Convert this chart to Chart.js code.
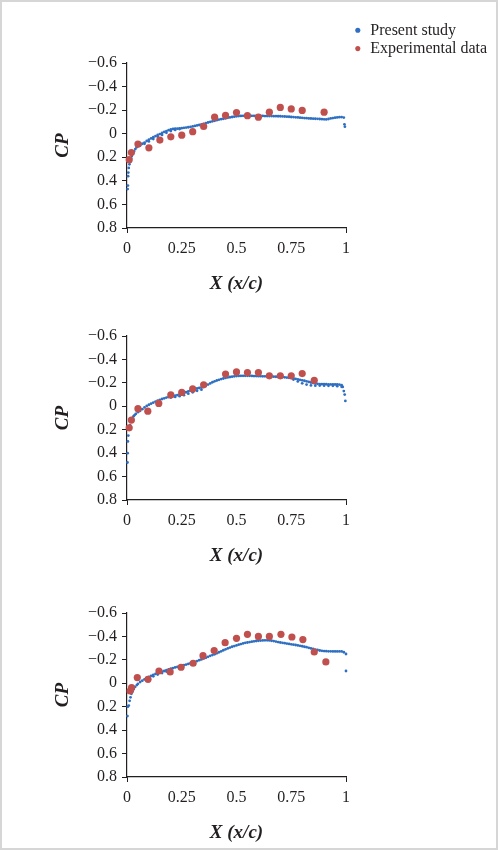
<!DOCTYPE html>
<html lang="en">
<head>
<meta charset="UTF-8">
<title>CP distribution - present study vs experimental data</title>
<script src="https://cdn.jsdelivr.net/npm/chart.js"></script>
<style>
  html, body { margin: 0; padding: 0; background: #fff; }
  body { width: 498px; height: 850px; position: relative; overflow: hidden; }
  .frame { position: absolute; left: 0; top: 0; width: 498px; height: 850px; box-sizing: border-box; border: 2px solid #d6d6d6; }
  .box { position: absolute; left: 0; width: 498px; }
</style>
</head>
<body>
<div class="frame"></div>
<div class="box" style="left:351px; top:20px; width:145px; height:130px"><canvas id="legend"></canvas></div>
<div class="box" style="top:40px; height:255px"><canvas id="cp1"></canvas></div>
<div class="box" style="top:313px; height:254px"><canvas id="cp2"></canvas></div>
<div class="box" style="top:590px; height:254px"><canvas id="cp3"></canvas></div>

<script>
// --- data ---
const seriesNames = ['Present study', 'Experimental data'];
const xTickValues = [0, 0.25, 0.5, 0.75, 1];
const xTickLabels = ['0', '0.25', '0.5', '0.75', '1'];
const yTickValues = [-0.6, -0.4, -0.2, 0, 0.2, 0.4, 0.6, 0.8];
const yTickLabels = ['\u22120.6', '\u22120.4', '\u22120.2', '0', '0.2', '0.4', '0.6', '0.8'];

// panel 1
const study1X = [0.003,0.004,0.005,0.006,0.008,0.011,0.014,0.018,0.022,0.027,0.032,0.038,0.044,
  0.05,0.06,0.07,0.08,0.09,0.10,0.11,0.12,0.13,0.14,0.15,0.16,0.17,0.18,0.19,0.20,0.21,0.22,0.23,0.24,
  0.25,0.26,0.27,0.28,0.29,0.30,0.31,0.32,0.33,0.34,0.35,0.36,0.37,0.38,0.39,0.40,0.41,0.42,0.43,0.44,
  0.45,0.46,0.47,0.48,0.49,0.50,0.51,0.52,0.53,0.54,0.55,0.56,0.57,0.58,0.59,0.60,0.61,0.62,0.63,0.64,
  0.65,0.66,0.67,0.68,0.69,0.70,0.71,0.72,0.73,0.74,0.75,0.76,0.77,0.78,0.79,0.80,0.81,0.82,0.83,0.84,
  0.85,0.86,0.87,0.88,0.89,0.90,0.91,0.92,0.93,0.94,0.95,0.96,0.97,0.98,0.99,0.993,0.995,
  0.06,0.08,0.10,0.12,0.14,0.16,0.18,0.20,0.22,0.24];
const study1Y = [0.47,0.44,0.36,0.33,0.29,0.26,0.24,0.21,0.19,0.17,0.15,0.13,0.115,
  0.105,0.095,0.085,0.075,0.062,0.05,0.04,0.03,0.02,0.01,0.003,-0.006,-0.015,-0.022,-0.03,-0.036,-0.04,-0.042,-0.043,-0.045,
  -0.047,-0.05,-0.052,-0.055,-0.058,-0.062,-0.066,-0.07,-0.074,-0.079,-0.084,-0.09,-0.095,-0.1,-0.105,-0.11,-0.115,-0.12,-0.123,-0.126,
  -0.13,-0.135,-0.138,-0.142,-0.145,-0.148,-0.15,-0.151,-0.152,-0.152,-0.152,-0.152,-0.152,-0.152,-0.151,-0.151,-0.151,-0.151,-0.15,-0.15,
  -0.15,-0.15,-0.149,-0.149,-0.148,-0.148,-0.147,-0.146,-0.145,-0.144,-0.142,-0.141,-0.139,-0.138,-0.136,-0.135,-0.133,-0.132,-0.13,-0.129,
  -0.128,-0.127,-0.126,-0.125,-0.123,-0.122,-0.121,-0.125,-0.13,-0.133,-0.136,-0.138,-0.14,-0.141,-0.137,-0.08,-0.06,
  0.1,0.085,0.065,0.045,0.025,0.01,-0.008,-0.022,-0.032,-0.04];
const exp1X = [0.01,0.02,0.05,0.10,0.15,0.20,0.25,0.30,0.35,0.40,0.45,0.50,0.55,0.60,0.65,0.70,0.75,0.80,0.90];
const exp1Y = [0.22,0.16,0.088,0.12,0.054,0.026,0.012,-0.017,-0.062,-0.14,-0.155,-0.18,-0.153,-0.14,-0.183,-0.223,-0.21,-0.198,-0.183];

// panel 2
const study2X = [0.002,0.003,0.004,0.006,0.01,0.014,0.02,0.025,0.03,0.035,0.04,
  0.05,0.06,0.07,0.08,0.09,0.10,0.11,0.12,0.13,0.14,0.15,0.16,0.17,0.18,0.19,0.20,0.21,0.22,0.23,0.24,
  0.25,0.26,0.27,0.28,0.29,0.30,0.31,0.32,0.33,0.34,0.35,0.36,0.37,0.38,0.39,0.40,0.41,0.42,0.43,0.44,
  0.45,0.46,0.47,0.48,0.49,0.50,0.51,0.52,0.53,0.54,0.55,0.56,0.57,0.58,0.59,0.60,0.61,0.62,0.63,0.64,
  0.65,0.66,0.67,0.68,0.69,0.70,0.71,0.72,0.73,0.74,0.75,0.76,0.77,0.78,0.79,0.80,0.81,0.82,0.83,0.84,
  0.85,0.86,0.87,0.88,0.89,0.90,0.91,0.92,0.93,0.94,0.95,0.96,0.97,0.98,0.985,0.99,0.994,0.997,
  0.20,0.22,0.24,0.26,0.28,0.30,0.32,0.34,0.76,0.78,0.80,0.82,0.84,0.86,0.88,0.90,0.92,0.94,0.96,0.98];
const study2Y = [0.48,0.40,0.30,0.25,0.2,0.16,0.125,0.1,0.085,0.075,0.065,
  0.05,0.038,0.025,0.01,-0.003,-0.013,-0.022,-0.031,-0.04,-0.048,-0.055,-0.062,-0.068,-0.074,-0.079,-0.083,-0.087,-0.091,-0.096,-0.101,
  -0.107,-0.113,-0.12,-0.128,-0.135,-0.142,-0.148,-0.152,-0.156,-0.16,-0.166,-0.175,-0.185,-0.195,-0.205,-0.213,-0.22,-0.226,-0.232,-0.237,
  -0.242,-0.246,-0.25,-0.253,-0.256,-0.258,-0.259,-0.26,-0.26,-0.26,-0.26,-0.26,-0.259,-0.258,-0.258,-0.257,-0.257,-0.256,-0.256,-0.255,
  -0.255,-0.254,-0.253,-0.252,-0.251,-0.25,-0.249,-0.247,-0.245,-0.243,-0.241,-0.238,-0.234,-0.23,-0.226,-0.222,-0.218,-0.213,-0.208,-0.203,
  -0.198,-0.194,-0.192,-0.19,-0.189,-0.188,-0.188,-0.187,-0.187,-0.186,-0.186,-0.186,-0.185,-0.18,-0.165,-0.13,-0.1,-0.046,
  -0.075,-0.08,-0.086,-0.095,-0.108,-0.12,-0.132,-0.142,-0.228,-0.212,-0.196,-0.185,-0.178,-0.176,-0.177,-0.176,-0.175,-0.175,-0.172,-0.166];
const exp2X = [0.01,0.02,0.05,0.095,0.145,0.20,0.25,0.30,0.35,0.45,0.50,0.55,0.60,0.65,0.70,0.75,0.80,0.855];
const exp2Y = [0.184,0.118,0.02,0.042,-0.024,-0.097,-0.118,-0.148,-0.183,-0.275,-0.293,-0.288,-0.288,-0.26,-0.26,-0.26,-0.279,-0.222];

// panel 3
const study3X = [0.002,0.004,0.008,0.012,0.016,0.02,0.025,0.03,0.037,0.045,
  0.05,0.06,0.07,0.08,0.09,0.10,0.11,0.12,0.13,0.14,0.15,0.16,0.17,0.18,0.19,0.20,0.21,0.22,0.23,0.24,
  0.25,0.26,0.27,0.28,0.29,0.30,0.31,0.32,0.33,0.34,0.35,0.36,0.37,0.38,0.39,0.40,0.41,0.42,0.43,0.44,
  0.45,0.46,0.47,0.48,0.49,0.50,0.51,0.52,0.53,0.54,0.55,0.56,0.57,0.58,0.59,0.60,0.61,0.62,0.63,0.64,
  0.65,0.66,0.67,0.68,0.69,0.70,0.71,0.72,0.73,0.74,0.75,0.76,0.77,0.78,0.79,0.80,0.81,0.82,0.83,0.84,
  0.85,0.86,0.87,0.88,0.89,0.90,0.91,0.92,0.93,0.94,0.95,0.96,0.97,0.98,0.99,1.0,1.0,
  0.10,0.12,0.14,0.16,0.18,0.20];
const study3Y = [0.28,0.2,0.19,0.15,0.12,0.09,0.07,0.05,0.031,0.015,
  0.005,-0.011,-0.022,-0.034,-0.045,-0.055,-0.064,-0.072,-0.08,-0.087,-0.093,-0.099,-0.105,-0.112,-0.118,-0.124,-0.13,-0.135,-0.14,-0.145,
  -0.15,-0.155,-0.16,-0.165,-0.171,-0.177,-0.183,-0.19,-0.197,-0.204,-0.211,-0.218,-0.226,-0.234,-0.241,-0.248,-0.256,-0.265,-0.273,-0.282,
  -0.29,-0.298,-0.305,-0.312,-0.318,-0.323,-0.33,-0.335,-0.34,-0.345,-0.348,-0.352,-0.355,-0.358,-0.361,-0.363,-0.365,-0.366,-0.367,-0.367,
  -0.366,-0.363,-0.36,-0.356,-0.352,-0.348,-0.345,-0.342,-0.339,-0.336,-0.333,-0.33,-0.327,-0.323,-0.32,-0.316,-0.312,-0.308,-0.303,-0.298,
  -0.293,-0.288,-0.284,-0.28,-0.277,-0.275,-0.274,-0.273,-0.273,-0.272,-0.272,-0.272,-0.272,-0.272,-0.265,-0.25,-0.105,
  -0.045,-0.06,-0.075,-0.088,-0.1,-0.112];
const exp3X = [0.014,0.021,0.047,0.096,0.146,0.197,0.247,0.302,0.347,0.398,0.448,0.50,0.55,0.60,0.65,0.703,0.753,0.803,0.855,0.908];
const exp3Y = [0.066,0.037,-0.049,-0.034,-0.105,-0.097,-0.137,-0.171,-0.236,-0.279,-0.347,-0.384,-0.418,-0.40,-0.40,-0.418,-0.395,-0.373,-0.267,-0.182];

// --- styling ---
const blue = '#2f6fc2';
const red = '#c0504d';
const ink = '#231f20';
const serif = "'Liberation Serif', 'Times New Roman', serif";

const panels = [
  { id: 'cp1', sx: study1X, sy: study1Y, ex: exp1X, ey: exp1Y },
  { id: 'cp2', sx: study2X, sy: study2Y, ex: exp2X, ey: exp2Y },
  { id: 'cp3', sx: study3X, sy: study3Y, ex: exp3X, ey: exp3Y }
];

const toPoints = (xs, ys) => xs.map((x, i) => ({ x: x, y: ys[i] }));

panels.forEach(p => {
  new Chart(document.getElementById(p.id), {
    type: 'scatter',
    data: {
      datasets: [
        { label: seriesNames[0], data: toPoints(p.sx, p.sy), backgroundColor: blue, borderColor: blue,
          borderWidth: 0, pointRadius: 1.4, pointHoverRadius: 1.4, order: 1, clip: false },
        { label: seriesNames[1], data: toPoints(p.ex, p.ey), backgroundColor: red, borderColor: red,
          borderWidth: 0, pointRadius: 3.6, pointHoverRadius: 3.6, order: 0, clip: false }
      ]
    },
    options: {
      responsive: true,
      maintainAspectRatio: false,
      animation: false,
      layout: { padding: { top: 23, right: 152, left: 0, bottom: 0 } },
      plugins: { legend: { display: false }, tooltip: { enabled: false } },
      scales: {
        x: {
          type: 'linear', min: 0, max: 1,
          afterBuildTicks: s => { s.ticks = xTickValues.map(v => ({ value: v })); },
          afterFit: s => { s.height = 67; },
          ticks: { callback: (v, i) => xTickLabels[i], color: ink, padding: 6, maxRotation: 0,
                   font: { family: serif, size: 16 } },
          grid: { drawOnChartArea: false, drawTicks: true, tickLength: 5, tickWidth: 1,
                  tickColor: c => (c.tick && (c.tick.value === 0 || c.tick.value === 1)) ? ink : 'rgba(0,0,0,0)' },
          border: { color: ink, width: 1.2 },
          title: { display: true, text: 'X (x/c)', color: ink, padding: { top: 0, bottom: 0 },
                   font: { family: serif, size: 19, weight: 'bold', style: 'italic' } }
        },
        y: {
          type: 'linear', min: -0.6, max: 0.8, reverse: true,
          afterBuildTicks: s => { s.ticks = yTickValues.map(v => ({ value: v })); },
          afterFit: s => { s.width = 127; },
          ticks: { callback: (v, i) => yTickLabels[i], color: ink, padding: 5,
                   font: { family: serif, size: 16 } },
          grid: { drawOnChartArea: false, drawTicks: true, tickLength: 5, tickWidth: 1, tickColor: ink },
          border: { color: ink, width: 1.2 },
          title: { display: true, text: 'CP', color: ink, padding: { top: 52, bottom: 0 },
                   font: { family: serif, size: 19, weight: 'bold', style: 'italic' } }
        }
      }
    }
  });
});

// shared legend, top right of the figure
new Chart(document.getElementById('legend'), {
  type: 'scatter',
  data: {
    datasets: [
      { label: seriesNames[0], data: [], backgroundColor: blue, borderColor: blue, borderWidth: 0 },
      { label: seriesNames[1], data: [], backgroundColor: red, borderColor: red, borderWidth: 0 }
    ]
  },
  options: {
    responsive: true,
    maintainAspectRatio: false,
    animation: false,
    layout: { padding: 0 },
    scales: { x: { display: false }, y: { display: false } },
    plugins: {
      tooltip: { enabled: false },
      legend: {
        display: true, position: 'top', align: 'start',
        labels: { usePointStyle: true, pointStyle: 'circle', boxWidth: 9, boxHeight: 3.6, padding: 2.3,
                  color: ink, font: { family: serif, size: 16 } }
      }
    }
  }
});
</script>
</body>
</html>
